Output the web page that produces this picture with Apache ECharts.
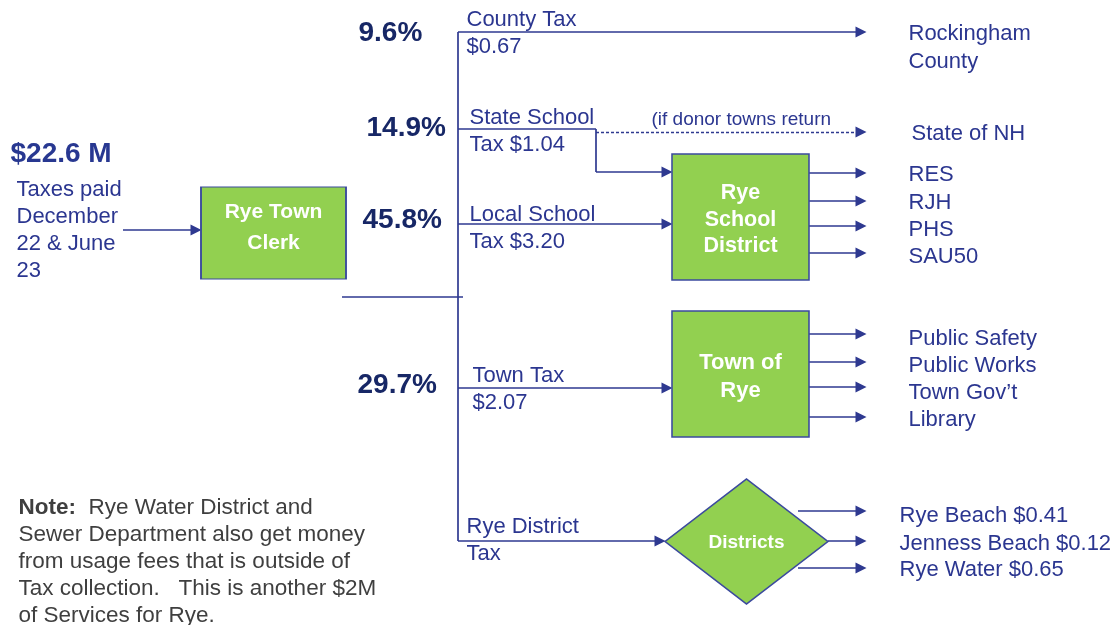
<!DOCTYPE html>
<html><head><meta charset="utf-8">
<script src="https://cdn.jsdelivr.net/npm/echarts@6/dist/echarts.min.js"></script>
<style>html,body{margin:0;padding:0;background:#fff}#c{width:1119px;height:625px}</style>
</head><body><div id="c"></div>
<script>
// ---------- DATA ----------
const totalCollected = '$22.6 M';
const paymentTiming = ['Taxes paid', 'December', '22 & June', '23'];
const taxLabelLines = [['County Tax', '$0.67'], ['State School', 'Tax $1.04'], ['Local School', 'Tax $3.20'], ['Town Tax', '$2.07'], ['Rye District', 'Tax']];
const taxShares = ['9.6%', '14.9%', '45.8%', '29.7%'];
const clerkName = 'Rye Town\nClerk';
const schoolName = 'Rye\nSchool\nDistrict';
const townName = 'Town of\nRye';
const districtsName = 'Districts';
const countyRecipient = ['Rockingham', 'County'];
const stateRecipient = 'State of NH';
const donorCaveat = '(if donor towns return';
const schoolRecipients = ['RES', 'RJH', 'PHS', 'SAU50'];
const townRecipients = ['Public Safety', 'Public Works', 'Town Gov\u2019t', 'Library'];
const districtRecipients = ['Rye Beach', 'Jenness Beach', 'Rye Water'];
const districtRates = ['$0.41', '$0.12', '$0.65'];
const noteLead = 'Note:';
const noteLines = ['  Rye Water District and', 'Sewer Department also get money', 'from usage fees that is outside of', 'Tax collection.   This is another $2M', 'of Services for Rye.'];

// ---------- LAYOUT (positions in canvas units) ----------
const L = {
  trunkX: 458, trunkTop: 32, trunkBottom: 541,
  branchY: [32, 129, 224, 388, 541],
  taxLabelX: [466, 469, 469, 472, 466], taxLabelY: [31.5, 129, 226, 387.5, 538],
  shareX: [358, 366, 362, 357], shareY: [31, 126, 218, 383],
  clerk: [273.5, 233, 145, 92], school: [740.5, 217, 137, 126], town: [740.5, 374, 137, 126], districts: [746.5, 541.5, 163, 125],
  inArrow: [123, 230], hBar: [342, 463, 297],
  stateBendX: 596, stateDropY: 172, dashY: 132,
  tipX: 866, outLabelX: 908, distLabelX: 899,
  schoolArrowY: [173, 201, 226, 253], schoolLabelY: [173, 201, 228, 255],
  townArrowY: [334, 362, 387, 417], townLabelY: [337, 364, 391, 418],
  distArrowX: [798, 828, 798], distArrowY: [511, 541, 568], distLabelY: [514, 542, 568],
  total: [10, 152], timing: [16, 228.5], county: [908, 46], state: [911, 132], donor: [651, 118], note: [18, 560],
  textShift: 2
};

const FONT = 'Liberation Sans, Arial, sans-serif';
const BLUE = '#2B3690', NAVY = '#172766', LINE = '#2E3990', GREEN = '#92D050', BORDER = '#3B4A9E', GREY = '#3F3F3F';
const HEAD = 5;

// connectors
const plain = [
  [[L.trunkX, L.trunkTop], [L.trunkX, L.trunkBottom]],
  [[L.hBar[0], L.hBar[2]], [L.hBar[1], L.hBar[2]]],
  [[L.trunkX, L.branchY[1]], [L.stateBendX, L.branchY[1]]],
  [[L.stateBendX, L.branchY[1]], [L.stateBendX, L.stateDropY]]
];
const arrows = [];
function arrow(x1, y1, x2, y2) { arrows.push([[x1, y1], [x2 - HEAD, y2]]); }
arrow(L.inArrow[0], L.inArrow[1], L.clerk[0] - L.clerk[2] / 2, L.inArrow[1]);
arrow(L.trunkX, L.branchY[0], L.tipX, L.branchY[0]);
arrow(L.stateBendX, L.stateDropY, L.school[0] - L.school[2] / 2, L.stateDropY);
arrow(L.trunkX, L.branchY[2], L.school[0] - L.school[2] / 2, L.branchY[2]);
arrow(L.trunkX, L.branchY[3], L.town[0] - L.town[2] / 2, L.branchY[3]);
arrow(L.trunkX, L.branchY[4], L.districts[0] - L.districts[2] / 2, L.branchY[4]);
schoolRecipients.forEach((r, i) => arrow(L.school[0] + L.school[2] / 2, L.schoolArrowY[i], L.tipX, L.schoolArrowY[i]));
townRecipients.forEach((r, i) => arrow(L.town[0] + L.town[2] / 2, L.townArrowY[i], L.tipX, L.townArrowY[i]));
districtRecipients.forEach((r, i) => arrow(L.distArrowX[i], L.distArrowY[i], L.tipX, L.distArrowY[i]));
const dashed = [[[L.stateBendX, L.dashY], [L.tipX - HEAD, L.dashY]]];

// text items
const texts = [];
function txt(x, y, text, style) {
  texts.push({ value: [x, y + L.textShift], label: Object.assign({ show: true, position: 'right', distance: 0, formatter: () => text, fontFamily: FONT, fontSize: 22, color: BLUE, lineHeight: 27 }, style || {}) });
}
txt(L.total[0], L.total[1], totalCollected, { fontSize: 28, fontWeight: 'bold', color: '#283891' });
txt(L.timing[0], L.timing[1], paymentTiming.join('\n'));
taxLabelLines.forEach((ln, i) => txt(L.taxLabelX[i], L.taxLabelY[i], ln.join('\n')));
taxShares.forEach((s, i) => txt(L.shareX[i], L.shareY[i], s, { fontSize: 28, fontWeight: 'bold', color: NAVY }));
txt(L.county[0], L.county[1], countyRecipient.join('\n'), { lineHeight: 28 });
txt(L.state[0], L.state[1], stateRecipient);
txt(L.donor[0], L.donor[1], donorCaveat, { fontSize: 19 });
schoolRecipients.forEach((r, i) => txt(L.outLabelX, L.schoolLabelY[i], r));
townRecipients.forEach((r, i) => txt(L.outLabelX, L.townLabelY[i], r));
districtRecipients.forEach((r, i) => txt(L.distLabelX, L.distLabelY[i], r + ' ' + districtRates[i]));
txt(L.note[0], L.note[1], '{b|' + noteLead + '}' + noteLines.join('\n'), {
  color: GREY, fontSize: 22.5, lineHeight: 27,
  rich: { b: { fontWeight: 'bold', color: GREY, fontSize: 22.5, fontFamily: FONT, lineHeight: 27 } }
});

// boxes
function box(b, name, symbol, fs, lh, dy) {
  return { value: [b[0], b[1]], symbol: symbol, symbolSize: [b[2], b[3]],
    label: { show: true, position: 'inside', offset: [0, dy], formatter: () => name, color: '#fff', fontWeight: 'bold', fontSize: fs, lineHeight: lh, fontFamily: FONT } };
}
const boxes = [
  box(L.clerk, clerkName, 'rect', 21, 31, -5),
  box(L.school, schoolName, 'rect', 21.5, 26.5, 3),
  box(L.town, townName, 'rect', 22, 28, 3),
  box(L.districts, districtsName, 'diamond', 19, 22, 1)
];

const chart = echarts.init(document.getElementById('c'), null, { renderer: 'canvas' });
chart.setOption({
  animation: false,
  backgroundColor: '#fff',
  grid: { left: 0, right: 0, top: 0, bottom: 0 },
  xAxis: { type: 'value', min: 0, max: 1119, show: false },
  yAxis: { type: 'value', min: 0, max: 625, inverse: true, show: false },
  series: [
    { type: 'lines', coordinateSystem: 'cartesian2d', silent: true, symbol: 'none',
      lineStyle: { color: LINE, width: 1.7, opacity: 1 }, data: plain.map(c => ({ coords: c })) },
    { type: 'lines', coordinateSystem: 'cartesian2d', silent: true, symbol: ['none', 'triangle'], symbolSize: 11,
      lineStyle: { color: LINE, width: 1.7, opacity: 1 }, data: arrows.map(c => ({ coords: c })) },
    { type: 'lines', coordinateSystem: 'cartesian2d', silent: true, symbol: ['none', 'triangle'], symbolSize: 11,
      lineStyle: { color: LINE, width: 1.3, opacity: 1, type: [3, 2] }, data: dashed.map(c => ({ coords: c })) },
    { type: 'scatter', silent: true, itemStyle: { color: GREEN, borderColor: BORDER, borderWidth: 1.5, opacity: 1 }, data: boxes, z: 3 },
    { type: 'scatter', silent: true, symbolSize: 1, itemStyle: { color: 'rgba(0,0,0,0)', opacity: 1 }, data: texts, z: 4 }
  ]
});
</script></body></html>
